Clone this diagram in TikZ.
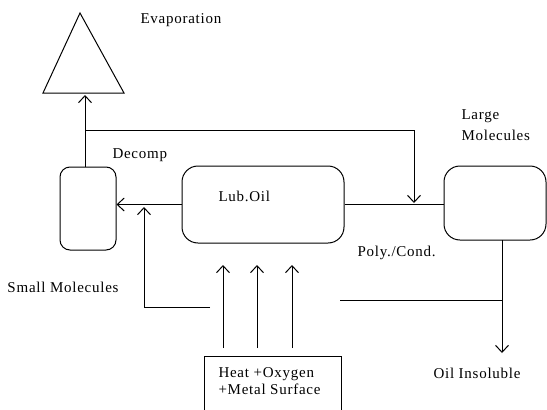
\documentclass[tikz,border=0pt]{standalone}
\usepackage{fontspec}
\setmainfont{Liberation Serif}[LetterSpace=5]
\usetikzlibrary{arrows.meta}
\begin{document}
\begin{tikzpicture}[x=1pt,y=-1pt, line width=1pt,
  arr/.style={-{Straight Barb[length=7pt,width=13pt]}},
  rbox/.style={draw, rounded corners=#1, inner sep=0pt},
  lbl/.style={font=\fontsize{15}{17}\selectfont, inner sep=0pt, anchor=west}]
\useasboundingbox (0,0) rectangle (547,410);
\clip (0,0) rectangle (547,410);
% triangle (evaporation)
\draw (43,93) -- (80,13) -- (124,93) -- cycle;
\coordinate (evb) at (85,95);
% boxes
\node[rbox=10, minimum width=56pt, minimum height=83pt] (small) at (88,208.5) {};
\node[rbox=16, minimum width=162pt, minimum height=77pt] (lub) at (263,204.5) {};
\node[rbox=16, minimum width=102pt, minimum height=74pt] (large) at (495,203) {};
\node[draw, inner sep=0pt, minimum width=137pt, minimum height=70pt] (heat) at (272.5,391) {};
% labels
\node[lbl] (tevap) at (140,20) {Evaporation};
\node[lbl] (tdec) at (112,155) {Decomp};
\node[lbl] (tlub) at (218,196) {Lub.Oil};
\node[lbl, align=left, font=\fontsize{15}{21}\selectfont] (tlarge) at (461,125.5) {Large\\Molecules};
\node[lbl] (tsmall) at (7,287) {Small Molecules};
\node[lbl] (tpoly) at (357,253) {Poly./Cond.};
\node[lbl, align=left] (theat) at (218,381.5) {Heat +Oxygen\\+Metal Surface};
\node[lbl] (tins) at (433,373) {Oil Insoluble};
% connectors
\coordinate (dj) at (85,130);
\coordinate (pj) at (414,203);
\draw[arr] ([xshift=-3pt]small.north) -- (evb);
\draw[arr] (dj) -| (pj);
\draw (lub.east) -- (lub.east -| large.west);
\draw[arr] (lub.west) -- (small.east |- lub.west);
\coordinate (hl) at (210,307);
\coordinate (hu) at (144,207);
\draw[arr] (hl) -| (hu);
\foreach \xx/\nm in {223/a,257/b,292/c}{
  \coordinate (h\nm) at (\xx,348);
  \coordinate (u\nm) at (\xx,265);
  \draw[arr] (h\nm) -- (u\nm);
}
\coordinate (il) at (340,300);
\coordinate (ir) at (502,300);
\draw (il) -- (ir);
\coordinate (ltop) at (502,240);
\coordinate (lbot) at (502,353);
\draw[arr] (ltop) -- (lbot);
\end{tikzpicture}
\end{document}
